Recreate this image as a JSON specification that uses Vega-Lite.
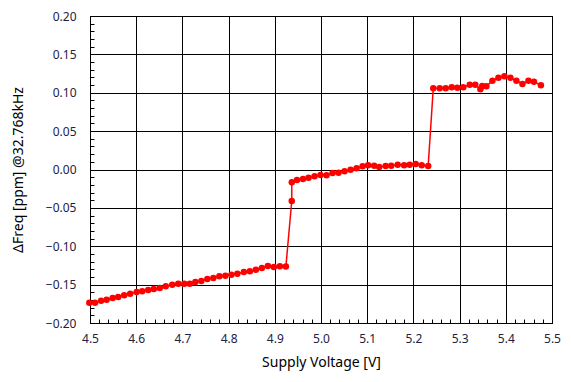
{
  "$schema": "https://vega.github.io/schema/vega-lite/v6.json",
  "width": 462,
  "height": 307,
  "autosize": {"type": "none"},
  "padding": {"left": 90, "top": 16, "right": 19, "bottom": 59},
  "background": "white",
  "config": {
    "view": {"stroke": "black", "strokeWidth": 1},
    "axis": {
      "labelFont": "Noto Sans",
      "titleFont": "Noto Sans",
      "labelFontSize": 12,
      "titleFontSize": 14,
      "titleFontWeight": "normal",
      "labelColor": "#222244",
      "titleColor": "black",
      "domain": false,
      "gridColor": "black",
      "gridWidth": 1,
      "tickColor": "black",
      "tickSize": -4
    }
  },
  "data": {
    "values": [
      {"v": 4.4985, "f": -0.1736}, {"v": 4.511, "f": -0.1736}, {"v": 4.524, "f": -0.1709}, {"v": 4.536, "f": -0.1696},
      {"v": 4.549, "f": -0.1674}, {"v": 4.561, "f": -0.1661}, {"v": 4.574, "f": -0.1639}, {"v": 4.587, "f": -0.1618},
      {"v": 4.601, "f": -0.1596}, {"v": 4.613, "f": -0.1587}, {"v": 4.626, "f": -0.157}, {"v": 4.638, "f": -0.1557},
      {"v": 4.651, "f": -0.1544}, {"v": 4.664, "f": -0.1522}, {"v": 4.678, "f": -0.1501}, {"v": 4.691, "f": -0.1488},
      {"v": 4.704, "f": -0.1488}, {"v": 4.716, "f": -0.1488}, {"v": 4.728, "f": -0.1466}, {"v": 4.741, "f": -0.1453},
      {"v": 4.754, "f": -0.1427}, {"v": 4.767, "f": -0.1414}, {"v": 4.78, "f": -0.1392}, {"v": 4.793, "f": -0.1384},
      {"v": 4.806, "f": -0.1371}, {"v": 4.819, "f": -0.1358}, {"v": 4.833, "f": -0.1336}, {"v": 4.846, "f": -0.1326},
      {"v": 4.859, "f": -0.1306}, {"v": 4.872, "f": -0.1283}, {"v": 4.885, "f": -0.1257}, {"v": 4.898, "f": -0.127},
      {"v": 4.911, "f": -0.1261}, {"v": 4.924, "f": -0.1265},
      {"v": 4.9367, "f": -0.041}, {"v": 4.9368, "f": -0.0167},
      {"v": 4.948, "f": -0.0137}, {"v": 4.961, "f": -0.0124}, {"v": 4.973, "f": -0.0107}, {"v": 4.986, "f": -0.0089},
      {"v": 4.999, "f": -0.0072}, {"v": 5.012, "f": -0.0075}, {"v": 5.025, "f": -0.0046}, {"v": 5.038, "f": -0.0042},
      {"v": 5.051, "f": -0.0024}, {"v": 5.064, "f": -0.0003}, {"v": 5.077, "f": 0.0016}, {"v": 5.09, "f": 0.0042},
      {"v": 5.102, "f": 0.0055}, {"v": 5.115, "f": 0.005}, {"v": 5.126, "f": 0.0033}, {"v": 5.14, "f": 0.0046},
      {"v": 5.152, "f": 0.005}, {"v": 5.166, "f": 0.0063}, {"v": 5.18, "f": 0.0055}, {"v": 5.192, "f": 0.0063},
      {"v": 5.205, "f": 0.0072}, {"v": 5.218, "f": 0.0055}, {"v": 5.232, "f": 0.0046},
      {"v": 5.243, "f": 0.1058}, {"v": 5.257, "f": 0.1058}, {"v": 5.27, "f": 0.1058}, {"v": 5.283, "f": 0.1071},
      {"v": 5.295, "f": 0.1066}, {"v": 5.308, "f": 0.1071}, {"v": 5.322, "f": 0.1105}, {"v": 5.334, "f": 0.1105},
      {"v": 5.345, "f": 0.1045}, {"v": 5.349, "f": 0.1088}, {"v": 5.358, "f": 0.1084}, {"v": 5.371, "f": 0.1157},
      {"v": 5.384, "f": 0.1196}, {"v": 5.397, "f": 0.1214}, {"v": 5.41, "f": 0.1196}, {"v": 5.423, "f": 0.1157},
      {"v": 5.436, "f": 0.1114}, {"v": 5.449, "f": 0.1157}, {"v": 5.461, "f": 0.1144}, {"v": 5.476, "f": 0.1097}
    ]
  },
  "mark": {
    "type": "line",
    "color": "#ff0000",
    "strokeWidth": 1.5,
    "point": {"filled": true, "color": "#ff0000", "size": 42, "opacity": 1}
  },
  "encoding": {
    "x": {
      "field": "v",
      "type": "quantitative",
      "title": "Supply Voltage [V]",
      "scale": {"domain": [4.5, 5.5], "nice": false, "zero": false},
      "axis": {
        "values": [4.5,4.52,4.54,4.56,4.58,4.6,4.62,4.64,4.66,4.68,4.7,4.72,4.74,4.76,4.78,4.8,4.82,4.84,4.86,4.88,4.9,4.92,4.94,4.96,4.98,5.0,5.02,5.04,5.06,5.08,5.1,5.12,5.14,5.16,5.18,5.2,5.22,5.24,5.26,5.28,5.3,5.32,5.34,5.36,5.38,5.4,5.42,5.44,5.46,5.48,5.5],
        "labelExpr": "abs(datum.value*10 - round(datum.value*10)) < 0.001 ? format(datum.value, '.1f') : ''",
        "gridOpacity": {"condition": {"test": "abs(datum.value*10 - round(datum.value*10)) < 0.001", "value": 1}, "value": 0},
        "labelPadding": 14,
        "labelFlush": false,
        "labelOverlap": false,
        "titlePadding": 11
      }
    },
    "y": {
      "field": "f",
      "type": "quantitative",
      "title": "ΔFreq [ppm] @32.768kHz",
      "scale": {"domain": [-0.2, 0.2], "nice": false, "zero": false},
      "axis": {
        "values": [-0.2,-0.19,-0.18,-0.17,-0.16,-0.15,-0.14,-0.13,-0.12,-0.11,-0.1,-0.09,-0.08,-0.07,-0.06,-0.05,-0.04,-0.03,-0.02,-0.01,0,0.01,0.02,0.03,0.04,0.05,0.06,0.07,0.08,0.09,0.1,0.11,0.12,0.13,0.14,0.15,0.16,0.17,0.18,0.19,0.2],
        "labelExpr": "abs(datum.value*20 - round(datum.value*20)) < 0.001 ? format(datum.value, '.2f') : ''",
        "gridOpacity": {"condition": {"test": "abs(datum.value*20 - round(datum.value*20)) < 0.001", "value": 1}, "value": 0},
        "labelPadding": 18,
        "labelFlush": false,
        "labelOverlap": false,
        "titlePadding": 20
      }
    }
  }
}
